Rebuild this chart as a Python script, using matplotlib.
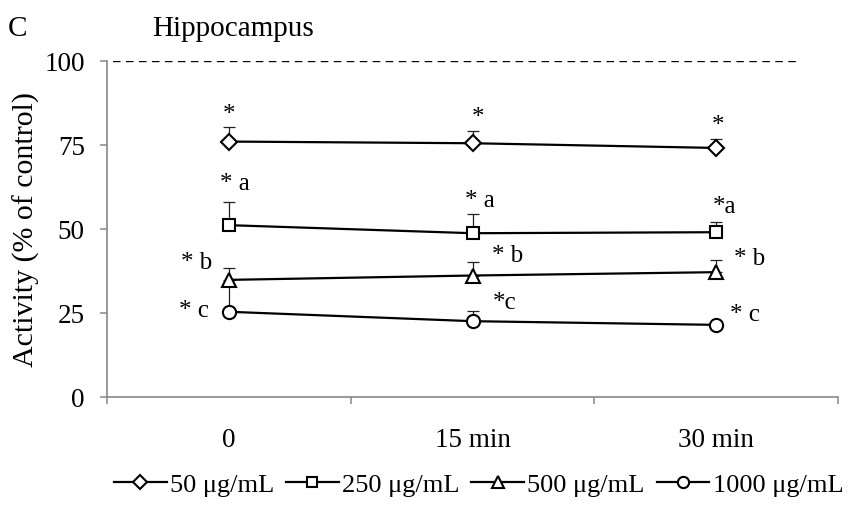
import matplotlib
matplotlib.use("Agg")
import matplotlib.pyplot as plt
from matplotlib.ticker import FixedLocator

plt.rcParams['font.family'] = ['Liberation Serif', 'DejaVu Serif']

categories = ["0", "15 min", "30 min"]
series_labels = ["50 μg/mL", "250 μg/mL", "500 μg/mL", "1000 μg/mL"]
vals_50 = [76.0, 75.5, 74.1]
vals_250 = [51.1, 48.7, 49.0]
vals_500 = [34.8, 36.1, 37.1]
vals_1000 = [25.3, 22.5, 21.4]
err_50 = [4.2, 3.6, 2.7]
err_250 = [7.0, 5.7, 3.1]
err_500 = [3.6, 4.0, 3.7]
err_1000 = [8.0, 3.1, 0.6]
ann_50 = ["*", "*", "*"]
ann_250 = ["* a", "* a", "*a"]
ann_500 = ["* b", "* b", "* b"]
ann_1000 = ["* c", "*c", "* c"]
control_level = 100

fig = plt.figure(figsize=(8.5, 5.06), dpi=100)
ax = fig.add_axes([0.1259, 0.214, 0.86, 0.6635])

x = list(range(len(categories)))
series = [
    (vals_50, err_50, 'D', 8.5, ann_50, [(0, 19.5), (4, 19), (1, 16.5)]),
    (vals_250, err_250, 's', 8.5, ann_250, [(4, 30), (5, 24), (6, 19)]),
    (vals_500, err_500, '^', 9.5, ann_500, [(-23, 13), (25, 15), (24, 10)]),
    (vals_1000, err_1000, 'o', 9.5, ann_1000, [(-25, 1), (23, 14), (21, 8)]),
]

for (vals, errs, mk, ms, anns, offs), lab in zip(series, series_labels):
    ax.errorbar(x, vals, yerr=[[0] * len(errs), errs], fmt='none',
                ecolor='#222222', elinewidth=0.9, capsize=4.5, capthick=0.9, zorder=2)
    ax.plot(x, vals, color='black', lw=1.6, marker=mk, ms=ms,
            mfc='white', mec='black', mew=1.5, label=lab, zorder=3)
    for xi, v, a, off in zip(x, vals, anns, offs):
        ax.annotate(a, (xi, v), xytext=off, textcoords='offset points',
                    ha='center', va='center', fontsize=18)

ax.plot([-0.475, 2.33], [control_level, control_level], ls=(0, (3.2, 2.3)),
        color='black', lw=1.7, zorder=1)

ax.set_xlim(-0.5, 2.5)
ax.set_ylim(0, 100)
ax.set_yticks([0, 25, 50, 75, 100])
ax.set_xticks(x)
ax.set_xticklabels(categories)
ax.xaxis.set_minor_locator(FixedLocator([-0.5, 0.5, 1.5, 2.5]))
ax.tick_params(axis='x', which='major', length=0, pad=22, labelsize=19.5)
ax.tick_params(axis='x', which='minor', length=5, width=1.1, color='#888888', direction='out')
ax.tick_params(axis='y', length=5, width=1.1, color='#888888', direction='out', labelsize=19.5, pad=11)

for s in ['top', 'right']:
    ax.spines[s].set_visible(False)
for s in ['left', 'bottom']:
    ax.spines[s].set_color('#888888')
    ax.spines[s].set_linewidth(1.2)

ax.set_ylabel("Activity (% of control)", fontsize=21.5, labelpad=3)

fig.text(0.009, 0.929, "C", fontsize=21, ha='left', va='baseline')
fig.text(0.179, 0.929, "Hippocampus", fontsize=21, ha='left', va='baseline')

leg = ax.legend(loc='center', bbox_to_anchor=(0.563, 0.04), bbox_transform=fig.transFigure,
                ncol=4, frameon=False, fontsize=19, handlelength=2.0,
                handletextpad=0.12, columnspacing=0.45, markerscale=0.85,
                borderpad=0, borderaxespad=0)

fig.savefig("out.png", dpi=100)
